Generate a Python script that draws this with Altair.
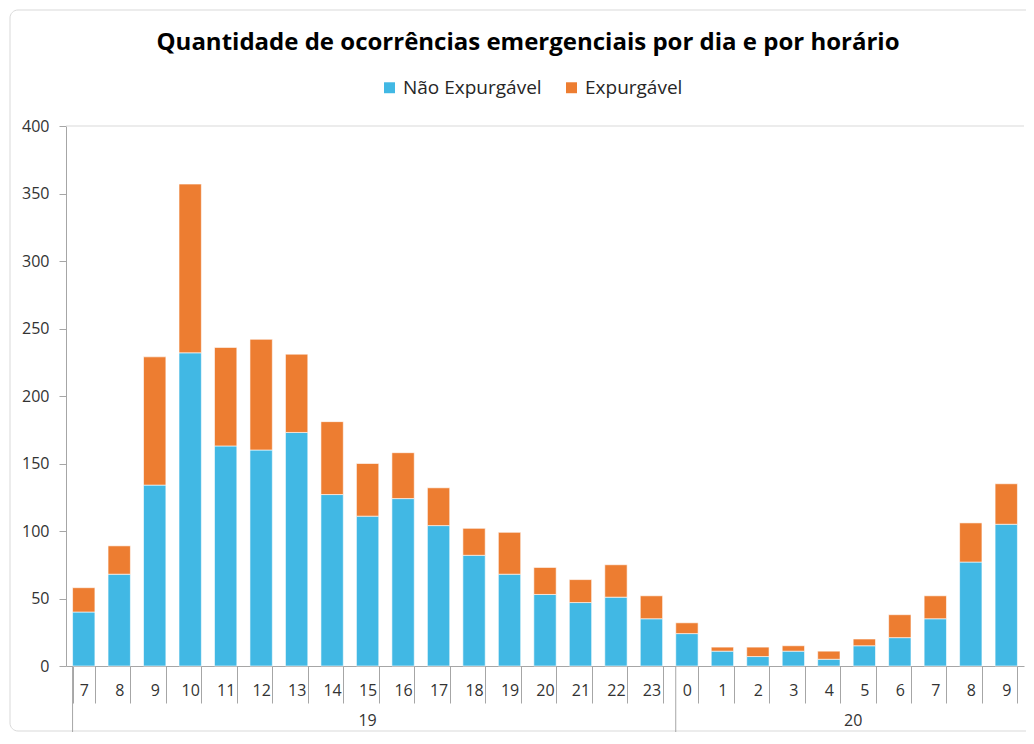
import altair as alt
import pandas as pd

# ---- data ----
days = [19] * 17 + [20] * 10
hours = [7, 8, 9, 10, 11, 12, 13, 14, 15, 16, 17, 18, 19, 20, 21, 22, 23,
         0, 1, 2, 3, 4, 5, 6, 7, 8, 9]
nao_expurgavel = [40, 68, 134, 232, 163, 160, 173, 127, 111, 124, 104, 82, 68, 53, 47, 51, 35,
                  24, 11, 7, 11, 5, 15, 21, 35, 77, 105]
expurgavel = [18, 21, 95, 125, 73, 82, 58, 54, 39, 34, 28, 20, 31, 20, 17, 24, 17,
              8, 3, 7, 4, 6, 5, 17, 17, 29, 30]
series = ["Não Expurgável", "Expurgável"]
colors = ["#41B8E4", "#ED7D31"]
title_text = "Quantidade de ocorrências emergenciais por dia e por horário"

keys = [f"{d}|{h}" for d, h in zip(days, hours)]
rows = []
for k, d, h, n, e in zip(keys, days, hours, nao_expurgavel, expurgavel):
    rows.append(dict(key=k, day=d, hour=h, serie=series[0], ord=0, v=n))
    rows.append(dict(key=k, day=d, hour=h, serie=series[1], ord=1, v=e))
df = pd.DataFrame(rows)

W, H = 958, 540
FONT = "Open Sans"
GRAY = "#A6A6A6"
TXT = "#333333"

xscale = alt.Scale(domain=keys, paddingInner=0.37, paddingOuter=0.185)

frame = alt.Chart(pd.DataFrame({"a": [0]})).mark_rect(
    fill=None, stroke="#D9D9D9", strokeWidth=1, cornerRadius=8
).encode(
    x=alt.value(-56), x2=alt.value(W + 20), y=alt.value(-116), y2=alt.value(H + 65)
)

bars = alt.Chart(df).mark_bar(stroke="white", strokeWidth=0.6).encode(
    x=alt.X("key:N", scale=xscale, title=None,
            axis=alt.Axis(labelExpr="split(datum.value, '|')[1]", tickBand="extent",
                          tickSize=37, labelPadding=-21, labelAngle=0, labelFontSize=16,
                          labelColor=TXT, labelFont=FONT, tickColor=GRAY, domainColor=GRAY)),
    y=alt.Y("v:Q", stack="zero", scale=alt.Scale(domain=[0, 400]), title=None,
            axis=alt.Axis(values=list(range(0, 401, 50)), grid=False, tickSize=7,
                          labelPadding=10, labelFontSize=16, labelColor=TXT, labelFont=FONT,
                          tickColor=GRAY, domainColor=GRAY)),
    color=alt.Color("serie:N", scale=alt.Scale(domain=series, range=colors),
                    legend=alt.Legend(orient="none", legendX=314, legendY=-48,
                                      direction="horizontal", title=None,
                                      symbolType="square", symbolSize=120,
                                      symbolStrokeWidth=0, labelFontSize=19,
                                      labelFont=FONT, labelColor="#262626",
                                      columnPadding=20, labelOffset=4)),
    order=alt.Order("ord:Q", sort="ascending"),
)

top_line = alt.Chart(pd.DataFrame({"y": [400]})).mark_rule(color="#D9D9D9").encode(
    y=alt.Y("y:Q")
)

# day separators (at the start of each day's first hour band)
day_list = sorted(set(days))
first_keys = [keys[days.index(d)] for d in day_list]
sep = alt.Chart(pd.DataFrame({"key": first_keys})).mark_rule(color=GRAY).encode(
    x=alt.X("key:N", bandPosition=0),
    y=alt.value(H), y2=alt.value(H + 66),
)

layers = [frame, bars, top_line, sep]
for d in day_list:
    idx = [i for i, dd in enumerate(days) if dd == d]
    c = (len(idx) - 1) / 2
    if c == int(c):
        k, bp = keys[idx[int(c)]], 0.5
    else:
        k, bp = keys[idx[int(c) + 1]], 0.0
    layers.append(
        alt.Chart(pd.DataFrame({"key": [k], "label": [str(d)]}))
        .mark_text(fontSize=16, font=FONT, color=TXT, baseline="middle")
        .encode(x=alt.X("key:N", bandPosition=bp), y=alt.value(H + 55), text="label:N")
    )

chart = alt.layer(*layers).properties(
    width=W, height=H,
    title=alt.TitleParams(title_text, fontSize=24, font=FONT, fontWeight="bold",
                          color="#000000", anchor="middle", frame="group", dy=49, dx=-17),
    autosize=alt.AutoSizeParams(type="none"),
    padding={"left": 58, "top": 118, "right": 2, "bottom": 66},
).configure_view(stroke=None)

chart.save("out.html", embed_options={"renderer": "svg", "actions": False})
